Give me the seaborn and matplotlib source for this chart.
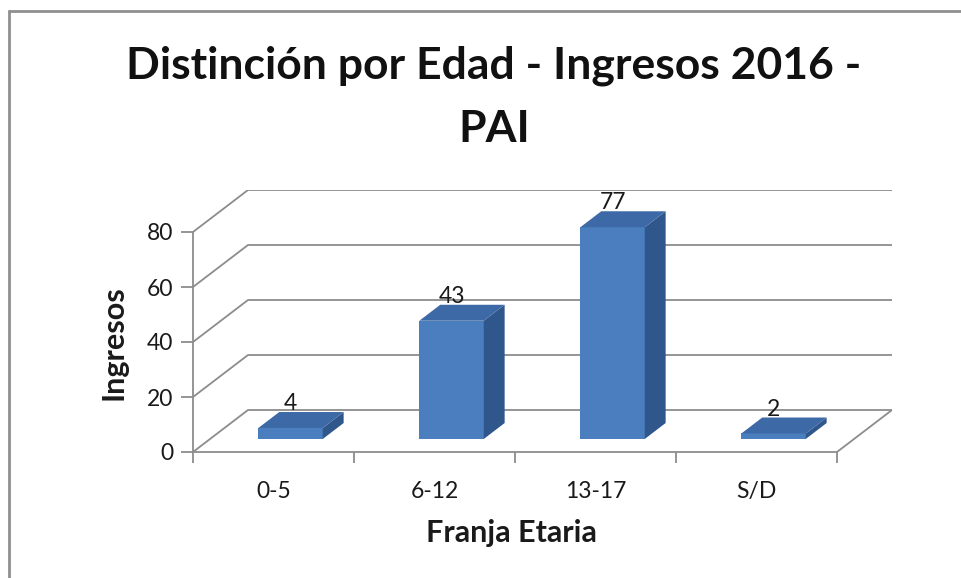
import numpy as np
import matplotlib
matplotlib.use("Agg")
import matplotlib.pyplot as plt
from matplotlib.patches import Polygon
from matplotlib.lines import Line2D
import seaborn as sns
import pandas as pd

# data
categories = ["0-5", "6-12", "13-17", "S/D"]
ingresos = [4, 43, 77, 2]
y_ticks = [0, 20, 40, 60, 80]

title_lines = ["Distinción por Edad - Ingresos 2016 -", "PAI"]
x_label = "Franja Etaria"
y_label = "Ingresos"

sns.set_theme(style="white")
plt.rcParams["font.family"] = ["Lato", "DejaVu Sans"]

W, H = 961, 578
fig = plt.figure(figsize=(W / 100, H / 100), dpi=100)

# perspective depth of the floor/back wall in data units
DX = 55 / 161          # horizontal shift in category units
DY = 42 / 2.75         # vertical shift in value units
BAR_D0, BAR_D1 = 0.31, 0.69   # bar depth span (fraction of full depth)
BAR_W = 0.40

n = len(categories)
ymax = y_ticks[-1]
# axes placed so the front plane runs x:193..837 px, y:452..232 px
x0, x1 = 193, 837
yb, yt = 452, 232
xr = x1 + DX * (x1 - x0) / n
ytop = yt - DY * (yb - yt) / ymax
ax = fig.add_axes([x0 / W, (H - yb) / H, (xr - x0) / W, (yb - ytop) / H])

grid_c = "#8c8c8c"
text_c = "#1a1a1a"

# side wall + back wall gridlines
for v in y_ticks:
    ax.plot([-0.5, -0.5 + DX, n - 0.5 + DX], [v, v + DY, v + DY],
            color=grid_c, lw=1.3, zorder=1, solid_capstyle="butt")
# floor right edge
ax.plot([n - 0.5, n - 0.5 + DX], [0, DY], color=grid_c, lw=1.3, zorder=1)

# front faces of the bars
front_c = "#4a7ebf"
side_c = "#30578c"
top_c = "#3d69a6"
df = pd.DataFrame({"Franja": categories, "Ingresos": ingresos})
sns.barplot(data=df, x="Franja", y="Ingresos", color=front_c,
            saturation=1, width=BAR_W, ax=ax, zorder=3, linewidth=0)

ox, oy = BAR_D0 * DX, BAR_D0 * DY
ddx, ddy = (BAR_D1 - BAR_D0) * DX, (BAR_D1 - BAR_D0) * DY
for p, v in zip(list(ax.patches), ingresos):
    # push the front face back to its depth on the floor
    p.set_x(p.get_x() + ox)
    p.set_y(p.get_y() + oy)
    p.set_facecolor(front_c)
    xl = p.get_x()
    xrr = xl + p.get_width()
    yb0 = p.get_y()
    yt0 = yb0 + p.get_height()
    side = Polygon([(xrr, yb0), (xrr + ddx, yb0 + ddy), (xrr + ddx, yt0 + ddy), (xrr, yt0)],
                   closed=True, facecolor=side_c, edgecolor="none", zorder=3)
    top = Polygon([(xl, yt0), (xrr, yt0), (xrr + ddx, yt0 + ddy), (xl + ddx, yt0 + ddy)],
                  closed=True, facecolor=top_c, edgecolor="none", zorder=3)
    ax.add_patch(side)
    ax.add_patch(top)
    ax.text((xl + xrr) / 2, yt0 + ddy - 0.8, f"{v}", ha="center", va="bottom",
            fontsize=16.5, color=text_c, zorder=4)

ax.set_xlim(-0.5, n - 0.5 + DX)
ax.set_ylim(0, ymax + DY)

# axes lines and ticks
for s in ["top", "right"]:
    ax.spines[s].set_visible(False)
ax.spines["left"].set_bounds(0, ymax)
ax.spines["bottom"].set_bounds(-0.5, n - 0.5)
for s in ["left", "bottom"]:
    ax.spines[s].set_color(grid_c)
    ax.spines[s].set_linewidth(1.3)
    ax.spines[s].set_zorder(2)

ax.set_yticks(y_ticks)
ax.set_yticklabels([str(t) for t in y_ticks], fontsize=16.5, color=text_c)
ax.set_xticks(range(n))
ax.set_xticklabels(categories, fontsize=16.5, color=text_c)
ax.set_xticks(np.arange(-0.5, n, 1.0), minor=True)
ax.tick_params(axis="y", which="major", left=True, length=9, width=1.3,
               color=grid_c, pad=5, direction="out")
ax.tick_params(axis="x", which="major", bottom=False, length=0, pad=21)
ax.tick_params(axis="x", which="minor", bottom=True, length=8, width=1.3,
               color=grid_c, direction="out")
ax.set_xlabel("")
ax.set_ylabel("")
ax.grid(False)
ax.patch.set_alpha(0)

fig.text(511 / W, 1 - 533 / H, x_label, ha="center", va="center",
         fontsize=22, fontweight="bold", color=text_c)
fig.text(114 / W, 1 - 343 / H, y_label, rotation=90, ha="center", va="center",
         fontsize=22, fontweight="bold", color=text_c)

# two-line chart title
for line, base in zip(title_lines, [78, 142]):
    fig.text(494 / W, 1 - base / H, line, ha="center", va="baseline", fontsize=32,
             fontweight="bold", color="#111111")

# outer frame (top and left edges)
fig.add_artist(Line2D([9 / W, 1], [1 - 11 / H, 1 - 11 / H], color="#8f8f8f", lw=2,
                      transform=fig.transFigure))
fig.add_artist(Line2D([9 / W, 9 / W], [1 - 11 / H, 0], color="#8f8f8f", lw=2,
                      transform=fig.transFigure))

fig.savefig("out.png", dpi=100, facecolor="white")
